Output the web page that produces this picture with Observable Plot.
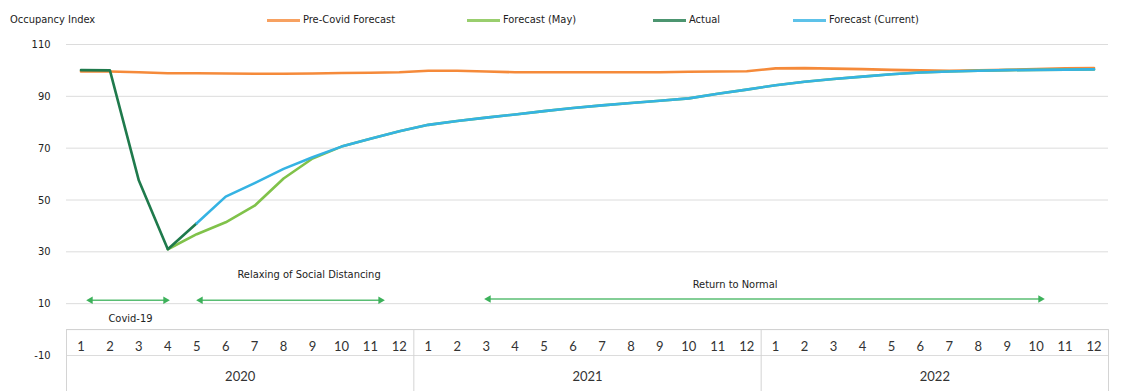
<!DOCTYPE html>
<html>
<head>
<meta charset="utf-8">
<script src="https://cdn.jsdelivr.net/npm/d3@7"></script>
<script src="https://cdn.jsdelivr.net/npm/@observablehq/plot@0.6"></script>
<style>
  body { margin: 0; background: #fff; }
  #head { position: relative; width: 1121px; height: 30px;
          font-family: 'Liberation Sans Narrow', 'DejaVu Sans Condensed', sans-serif;
          font-size: 11px; color: #222; }
  #head .t { position: absolute; top: 13px; line-height: 14px; white-space: nowrap; }
  #head .sw { position: absolute; top: 19px; width: 33px; height: 3px; }
</style>
</head>
<body>
<div id="head"></div>
<div id="chart"></div>
<script>
// Monthly occupancy index, Jan 2020 – Dec 2022
const years = ["2020", "2021", "2022"];
const monthLabels = ["1", "2", "3", "4", "5", "6", "7", "8", "9", "10", "11", "12"];
const yTicks = [-10, 10, 30, 50, 70, 90, 110];

const seriesNames = ["Pre-Covid Forecast", "Forecast (May)", "Actual", "Forecast (Current)"];
const seriesColors = ["#f58a3a", "#80c24a", "#1f7a4c", "#35b3e3"];

const preCovid = [
  99.6, 99.6, 99.3, 98.9, 98.9, 98.8, 98.7, 98.7, 98.8, 99.0, 99.1, 99.3,
  99.9, 99.9, 99.6, 99.3, 99.3, 99.3, 99.3, 99.3, 99.3, 99.5, 99.6, 99.7,
  100.8, 100.9, 100.7, 100.5, 100.2, 100.0, 99.9, 100.0, 100.2, 100.5, 100.8, 100.9
];
const forecastMay = [
  null, null, null, 31.0, 36.8, 41.4, 47.8, 58.3, 66.0, 70.6, 73.6, 76.5,
  79.0, 80.5, 81.8, 83.0, 84.3, 85.5, 86.5, 87.4, 88.3, 89.2, 91.0, 92.6,
  94.3, 95.6, 96.7, 97.6, 98.5, 99.2, 99.6, 99.9, 100.1, 100.2, 100.3, 100.4
];
const actual = [
  100.1, 100.0, 57.5, 31.0, 41.0, null, null, null, null, null, null, null,
  null, null, null, null, null, null, null, null, null, null, null, null,
  null, null, null, null, null, null, null, null, null, null, null, null
];
const forecastCurrent = [
  null, null, null, null, 41.0, 51.3, 56.5, 62.0, 66.5, 70.6, 73.6, 76.5,
  79.0, 80.5, 81.8, 83.0, 84.3, 85.5, 86.5, 87.4, 88.3, 89.2, 91.0, 92.6,
  94.3, 95.6, 96.7, 97.6, 98.5, 99.2, 99.6, 99.9, 100.1, 100.2, 100.3, 100.4
];

// Phase annotations (x in month index, 0 = Jan 2020)
const phaseLabels = ["Covid-19", "Relaxing of Social Distancing", "Return to Normal"];
const phaseStart = [0.33, 4.13, 14.08];
const phaseEnd = [2.92, 10.35, 33.15];
const phaseLevel = [11.3, 11.3, 11.8];
const phaseLabelX = [1.71, 7.88, 22.6];
const phaseLabelY = [4.2, 21.3, 17.5];

// ---- header: axis title and legend ----
const head = document.getElementById("head");
const title = document.createElement("div");
title.className = "t";
title.style.left = "10px";
title.textContent = "Occupancy Index";
head.appendChild(title);
const legendLeft = [267, 467, 653, 793];
seriesNames.forEach((name, k) => {
  const sw = document.createElement("div");
  sw.className = "sw";
  sw.style.left = legendLeft[k] + "px";
  sw.style.background = seriesColors[k];
  sw.style.opacity = 0.8;
  head.appendChild(sw);
  const t = document.createElement("div");
  t.className = "t";
  t.style.left = (legendLeft[k] + 36) + "px";
  t.textContent = name;
  head.appendChild(t);
});

// ---- chart ----
const idx = d3.range(years.length * 12);
const toRows = values => idx.filter(i => values[i] != null).map(i => ({i, v: values[i]}));
const yearEdges = d3.range(years.length + 1).map(k => k * 12 - 0.5);
const arrows = phaseLabels.map((label, k) => ({
  label, x1: phaseStart[k], x2: phaseEnd[k], y: phaseLevel[k], lx: phaseLabelX[k], ly: phaseLabelY[k]
}));
const arrowGreen = "#3cb15a";

const chart = Plot.plot({
  width: 1121,
  height: 361,
  marginLeft: 66,
  marginRight: 13,
  marginTop: 14,
  marginBottom: 36,
  style: { fontFamily: "'Liberation Sans Narrow', 'DejaVu Sans Condensed', sans-serif", fontSize: "11px", color: "#222", background: "#fff" },
  x: { domain: [-0.5, idx.length - 0.5], axis: null },
  y: { domain: [-10, 110] },
  marks: [
    Plot.gridY(yTicks, { stroke: "#dcdcdc", strokeOpacity: 1 }),
    Plot.axisY(yTicks, { tickSize: 0, tickPadding: 16, fontSize: 11, fill: "#222", tickFormat: d => String(d) }),
    Plot.ruleY([0], { stroke: "#cfcfcf" }),
    Plot.ruleX(yearEdges, { y1: 0, y2: -24, stroke: "#d4d4d4" }),
    Plot.text(idx, { x: d => d, text: d => monthLabels[d % 12], frameAnchor: "bottom", dy: -5,
      fontFamily: "Lato, 'Liberation Sans', sans-serif", fontSize: 13, fill: "#333" }),
    Plot.text(years, { x: (d, k) => k * 12 + 5.5, text: d => d, frameAnchor: "bottom", dy: 25,
      fontFamily: "Lato, 'Liberation Sans', sans-serif", fontSize: 13, fill: "#333" }),

    // phase arrows
    Plot.ruleY(arrows, { x1: "x1", x2: "x2", y: "y", stroke: arrowGreen, strokeWidth: 1.4, strokeOpacity: 0.85 }),
    Plot.dot(arrows, { x: "x1", y: "y", symbol: "triangle2", r: 3.6, rotate: -90, fill: arrowGreen }),
    Plot.dot(arrows, { x: "x2", y: "y", symbol: "triangle2", r: 3.6, rotate: 90, fill: arrowGreen }),
    Plot.text(arrows, { x: "lx", y: "ly", text: "label", fontSize: 11, fill: "#222" }),

    // series
    Plot.line(toRows(preCovid), { x: "i", y: "v", stroke: seriesColors[0], strokeWidth: 2.6 }),
    Plot.line(toRows(forecastMay), { x: "i", y: "v", stroke: seriesColors[1], strokeWidth: 2.6 }),
    Plot.line(toRows(actual), { x: "i", y: "v", stroke: seriesColors[2], strokeWidth: 2.6 }),
    Plot.line(toRows(forecastCurrent), { x: "i", y: "v", stroke: seriesColors[3], strokeWidth: 2.6 })
  ]
});
document.getElementById("chart").appendChild(chart);
</script>
</body>
</html>
